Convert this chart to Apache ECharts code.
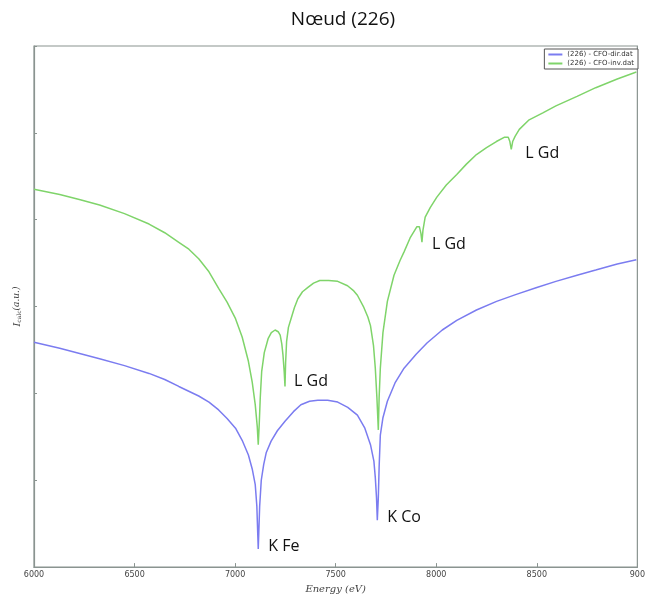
<!DOCTYPE html>
<html><head><meta charset="utf-8">
<script src="https://cdn.jsdelivr.net/npm/echarts@6/dist/echarts.min.js"></script>
<style>html,body{margin:0;padding:0;background:#fff}#c{width:648px;height:599px}</style>
</head><body><div id="c"></div>
<script>
// Energy (eV) / intensity (a.u.)
const dirEnergy = [6000,6128,6326,6450,6572,6650,6720,6819,6870,6918,6960,7002,7035,7066,7085,7100,7108,7115,7122,7130,7142,7155,7179,7210,7248,7290,7327,7370,7411,7460,7510,7560,7608,7645,7673,7690,7697,7703,7707,7712,7716,7722,7735,7757,7795,7840,7900,7954,8030,8102,8200,8300,8398,8500,8595,8700,8793,8900,8995];
const dirValue  = [2.59,2.52,2.40,2.32,2.23,2.16,2.08,1.97,1.90,1.81,1.71,1.60,1.46,1.29,1.13,0.95,0.70,0.21,0.70,1.00,1.18,1.32,1.45,1.57,1.68,1.79,1.87,1.91,1.92,1.92,1.90,1.84,1.75,1.60,1.41,1.22,1.03,0.80,0.54,0.80,1.15,1.52,1.72,1.91,2.12,2.29,2.45,2.58,2.73,2.84,2.96,3.06,3.14,3.22,3.29,3.36,3.42,3.49,3.54];
const invEnergy = [6000,6128,6230,6326,6450,6572,6650,6720,6770,6819,6870,6918,6960,7002,7035,7066,7085,7100,7110,7115,7120,7125,7132,7145,7164,7180,7199,7214,7224,7232,7238,7244,7248,7251,7256,7265,7278,7295,7312,7335,7362,7390,7421,7465,7510,7559,7590,7608,7640,7660,7673,7688,7697,7705,7712,7716,7722,7735,7757,7790,7820,7840,7870,7904,7916,7924,7929,7934,7945,7970,8003,8050,8102,8150,8200,8250,8299,8340,8358,8366,8373,8380,8392,8413,8462,8530,8595,8700,8793,8900,8995];
const invValue  = [4.35,4.29,4.23,4.17,4.07,3.95,3.85,3.74,3.66,3.55,3.40,3.21,3.05,2.86,2.65,2.37,2.13,1.87,1.62,1.41,1.65,1.95,2.25,2.47,2.63,2.70,2.73,2.71,2.67,2.57,2.44,2.25,2.08,2.35,2.60,2.76,2.86,2.99,3.09,3.17,3.22,3.27,3.30,3.30,3.29,3.24,3.18,3.13,2.99,2.88,2.78,2.55,2.29,1.95,1.58,1.95,2.29,2.70,3.06,3.36,3.53,3.63,3.79,3.92,3.92,3.84,3.74,3.88,4.03,4.14,4.26,4.40,4.52,4.64,4.75,4.83,4.90,4.95,4.95,4.90,4.81,4.90,4.96,5.04,5.15,5.23,5.31,5.42,5.52,5.62,5.70];
const seriesNames = ['(226) - CFO-dir.dat','(226) - CFO-inv.dat'];
const xTickLabels = ['6000','6500','7000','7500','8000','8500','900'];
const annotations = [
  {text:'K Fe', series:0, energy:7115, value:0.21},
  {text:'K Co', series:0, energy:7707, value:0.54},
  {text:'L Gd', series:1, energy:7248, value:2.08},
  {text:'L Gd', series:1, energy:7929, value:3.74},
  {text:'L Gd', series:1, energy:8373, value:4.81}
];
// label nudges (pixels), same order as annotations
const labelNudge = [[2,-2],[2,-3],[1,-5],[2,2],[6,4]];
const zip = (a,b)=>a.map((x,i)=>[x,b[i]]);
const mk = (s)=>annotations.map((a,i)=>({a,i})).filter(o=>o.a.series===s).map(o=>({
  coord:[o.a.energy,o.a.value],value:o.a.text,label:{offset:labelNudge[o.i]}}));
const labelStyle = {show:true,position:'right',distance:8,formatter:(p)=>p.value,fontFamily:'Open Sans',fontSize:16,color:'#111'};
const chart = echarts.init(document.getElementById('c'));
chart.setOption({
  animation:false,
  backgroundColor:'#fff',
  title:{text:'Nœud (226)',left:338,textAlign:'center',top:5,textStyle:{fontFamily:'Open Sans',fontSize:19,fontWeight:'normal',color:'#111'}},
  grid:{left:34,right:6,top:46,bottom:29,show:true,borderColor:'#8a9490',borderWidth:1.2},
  legend:{right:10,top:49,orient:'vertical',itemGap:2,itemWidth:14,itemHeight:2,icon:'rect',
    borderColor:'#555',borderWidth:1,padding:[2,4,2,4],backgroundColor:'#fff',
    textStyle:{fontSize:7,color:'#333',fontFamily:'DejaVu Sans'},data:seriesNames},
  xAxis:{type:'value',min:6000,max:9000,interval:500,
    axisLine:{show:true,lineStyle:{color:'#8a9490',width:1.2}},
    axisTick:{inside:true,length:4,lineStyle:{color:'#8a9490'}},
    splitLine:{show:false},
    axisLabel:{fontSize:8,color:'#444',margin:4,fontFamily:'DejaVu Sans',
      formatter:(v)=>xTickLabels[Math.round((v-6000)/500)]},
    name:'Energy (eV)',nameLocation:'middle',nameGap:16,
    nameTextStyle:{fontFamily:'DejaVu Serif',fontStyle:'italic',fontSize:10,color:'#444'}},
  yAxis:{type:'value',min:0,max:6,interval:1,
    axisLine:{show:true,lineStyle:{color:'#8a9490',width:1.2}},
    axisTick:{inside:true,length:3,lineStyle:{color:'#8a9490'}},
    axisLabel:{show:false},splitLine:{show:false},
    name:'{i|I}{s|calc}{n|(a.u.)}',nameLocation:'middle',nameGap:12,
    nameTextStyle:{rich:{i:{fontFamily:'DejaVu Serif',fontStyle:'italic',fontSize:10,color:'#444'},
      s:{fontFamily:'DejaVu Serif',fontSize:6,color:'#444',verticalAlign:'bottom',padding:[4,0,0,0]},
      n:{fontFamily:'DejaVu Serif',fontStyle:'italic',fontSize:9,color:'#444'}}}},
  series:[
    {name:seriesNames[0],type:'line',data:zip(dirEnergy,dirValue),showSymbol:false,
     lineStyle:{color:'#7b7cf0',width:1.5},itemStyle:{color:'#7b7cf0'},
     markPoint:{symbol:'circle',symbolSize:0,data:mk(0),label:labelStyle}},
    {name:seriesNames[1],type:'line',data:zip(invEnergy,invValue),showSymbol:false,
     lineStyle:{color:'#7fd46a',width:1.5},itemStyle:{color:'#7fd46a'},
     markPoint:{symbol:'circle',symbolSize:0,data:mk(1),label:labelStyle}}
  ]
});
</script></body></html>
